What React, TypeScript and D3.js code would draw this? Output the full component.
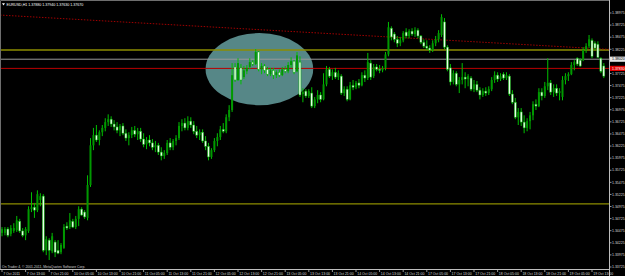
import React from "react";
import * as d3 from "d3";

// OHLC of each H1 bar (open, high, low, close), oldest first: 7 Oct 2011 05:00 .. 19 Oct 17:00
const ohlc: number[][] = [
  [1.3443, 1.3455, 1.3436, 1.3451], [1.3443, 1.3455, 1.3438, 1.3451], [1.3451, 1.3455, 1.3434, 1.3438], [1.3441, 1.3459, 1.3436, 1.3453],
  [1.3447, 1.3463, 1.3443, 1.3453], [1.3449, 1.3478, 1.3445, 1.3469], [1.3467, 1.3472, 1.3443, 1.3447], [1.3447, 1.3453, 1.3434, 1.3438],
  [1.3438, 1.3455, 1.3428, 1.3451], [1.3447, 1.3498, 1.3443, 1.3492], [1.3492, 1.3527, 1.3486, 1.3496], [1.3496, 1.3505, 1.3474, 1.3490],
  [1.3490, 1.3531, 1.3486, 1.3523], [1.3511, 1.3525, 1.3498, 1.3519], [1.3519, 1.3523, 1.3403, 1.3407], [1.3407, 1.3436, 1.3397, 1.3430],
  [1.3428, 1.3432, 1.3387, 1.3407], [1.3405, 1.3443, 1.3401, 1.3436], [1.3424, 1.3428, 1.3393, 1.3403], [1.3407, 1.3428, 1.3399, 1.3401],
  [1.3403, 1.3422, 1.3399, 1.3418], [1.3412, 1.3461, 1.3410, 1.3455], [1.3457, 1.3465, 1.3449, 1.3453], [1.3455, 1.3484, 1.3451, 1.3469],
  [1.3467, 1.3472, 1.3453, 1.3455], [1.3455, 1.3478, 1.3451, 1.3472], [1.3472, 1.3498, 1.3457, 1.3492], [1.3492, 1.3496, 1.3478, 1.3480],
  [1.3486, 1.3490, 1.3472, 1.3476], [1.3474, 1.3562, 1.3469, 1.3542], [1.3542, 1.3639, 1.3538, 1.3624], [1.3624, 1.3660, 1.3614, 1.3645],
  [1.3645, 1.3666, 1.3631, 1.3635], [1.3635, 1.3655, 1.3624, 1.3651], [1.3651, 1.3666, 1.3643, 1.3660], [1.3660, 1.3680, 1.3653, 1.3672],
  [1.3672, 1.3688, 1.3664, 1.3678], [1.3678, 1.3684, 1.3662, 1.3668], [1.3668, 1.3676, 1.3655, 1.3662], [1.3662, 1.3672, 1.3649, 1.3655],
  [1.3655, 1.3668, 1.3643, 1.3664], [1.3664, 1.3670, 1.3645, 1.3649], [1.3649, 1.3657, 1.3633, 1.3639], [1.3639, 1.3651, 1.3624, 1.3645],
  [1.3645, 1.3662, 1.3639, 1.3655], [1.3655, 1.3664, 1.3641, 1.3647], [1.3647, 1.3660, 1.3635, 1.3653], [1.3653, 1.3660, 1.3631, 1.3637],
  [1.3637, 1.3649, 1.3620, 1.3626], [1.3626, 1.3641, 1.3616, 1.3635], [1.3635, 1.3645, 1.3622, 1.3629], [1.3629, 1.3637, 1.3614, 1.3620],
  [1.3620, 1.3633, 1.3610, 1.3624], [1.3624, 1.3629, 1.3604, 1.3610], [1.3610, 1.3620, 1.3593, 1.3602], [1.3602, 1.3614, 1.3596, 1.3608],
  [1.3608, 1.3635, 1.3604, 1.3629], [1.3629, 1.3639, 1.3614, 1.3620], [1.3620, 1.3637, 1.3614, 1.3633], [1.3633, 1.3645, 1.3624, 1.3639],
  [1.3639, 1.3672, 1.3635, 1.3664], [1.3664, 1.3678, 1.3653, 1.3670], [1.3670, 1.3680, 1.3655, 1.3660], [1.3660, 1.3684, 1.3655, 1.3674],
  [1.3674, 1.3682, 1.3660, 1.3666], [1.3666, 1.3674, 1.3647, 1.3653], [1.3653, 1.3664, 1.3639, 1.3645], [1.3645, 1.3657, 1.3635, 1.3651],
  [1.3651, 1.3657, 1.3629, 1.3633], [1.3633, 1.3643, 1.3614, 1.3622], [1.3622, 1.3629, 1.3593, 1.3600], [1.3600, 1.3618, 1.3596, 1.3614],
  [1.3614, 1.3639, 1.3610, 1.3633], [1.3633, 1.3649, 1.3622, 1.3641], [1.3641, 1.3664, 1.3635, 1.3657], [1.3657, 1.3670, 1.3649, 1.3653],
  [1.3653, 1.3688, 1.3649, 1.3682], [1.3682, 1.3707, 1.3674, 1.3697], [1.3697, 1.3794, 1.3693, 1.3769], [1.3786, 1.3794, 1.3755, 1.3759],
  [1.3759, 1.3804, 1.3757, 1.3794], [1.3784, 1.3792, 1.3750, 1.3759], [1.3765, 1.3788, 1.3761, 1.3779], [1.3777, 1.3790, 1.3771, 1.3784],
  [1.3786, 1.3804, 1.3781, 1.3796], [1.3796, 1.3800, 1.3788, 1.3792], [1.3792, 1.3823, 1.3790, 1.3817], [1.3817, 1.3819, 1.3777, 1.3781],
  [1.3781, 1.3794, 1.3771, 1.3788], [1.3788, 1.3792, 1.3773, 1.3779], [1.3781, 1.3786, 1.3767, 1.3771], [1.3771, 1.3784, 1.3767, 1.3779],
  [1.3779, 1.3784, 1.3761, 1.3769], [1.3769, 1.3779, 1.3763, 1.3775], [1.3775, 1.3781, 1.3765, 1.3769], [1.3769, 1.3786, 1.3767, 1.3781],
  [1.3781, 1.3788, 1.3773, 1.3777], [1.3777, 1.3796, 1.3773, 1.3790], [1.3790, 1.3806, 1.3784, 1.3798], [1.3798, 1.3800, 1.3771, 1.3775],
  [1.3777, 1.3817, 1.3775, 1.3810], [1.3796, 1.3808, 1.3724, 1.3728], [1.3730, 1.3742, 1.3713, 1.3734], [1.3736, 1.3740, 1.3722, 1.3726],
  [1.3726, 1.3740, 1.3722, 1.3736], [1.3732, 1.3744, 1.3701, 1.3705], [1.3705, 1.3724, 1.3701, 1.3719], [1.3719, 1.3738, 1.3711, 1.3728],
  [1.3728, 1.3734, 1.3713, 1.3719], [1.3719, 1.3773, 1.3717, 1.3750], [1.3750, 1.3788, 1.3746, 1.3781], [1.3781, 1.3786, 1.3763, 1.3767],
  [1.3767, 1.3781, 1.3759, 1.3775], [1.3775, 1.3784, 1.3761, 1.3765], [1.3765, 1.3779, 1.3759, 1.3773], [1.3767, 1.3771, 1.3728, 1.3732],
  [1.3732, 1.3746, 1.3726, 1.3740], [1.3740, 1.3746, 1.3715, 1.3719], [1.3719, 1.3755, 1.3717, 1.3748], [1.3748, 1.3759, 1.3738, 1.3744],
  [1.3744, 1.3757, 1.3740, 1.3753], [1.3753, 1.3761, 1.3742, 1.3748], [1.3748, 1.3775, 1.3746, 1.3769], [1.3769, 1.3779, 1.3755, 1.3763],
  [1.3763, 1.3815, 1.3759, 1.3796], [1.3794, 1.3800, 1.3759, 1.3765], [1.3767, 1.3792, 1.3763, 1.3786], [1.3786, 1.3792, 1.3777, 1.3781],
  [1.3781, 1.3790, 1.3773, 1.3779], [1.3779, 1.3788, 1.3775, 1.3784], [1.3784, 1.3817, 1.3779, 1.3812], [1.3812, 1.3879, 1.3808, 1.3868],
  [1.3866, 1.3870, 1.3841, 1.3848], [1.3854, 1.3858, 1.3837, 1.3843], [1.3843, 1.3850, 1.3827, 1.3835], [1.3835, 1.3848, 1.3829, 1.3841],
  [1.3841, 1.3860, 1.3837, 1.3856], [1.3858, 1.3866, 1.3845, 1.3850], [1.3850, 1.3864, 1.3845, 1.3860], [1.3860, 1.3866, 1.3850, 1.3854],
  [1.3854, 1.3868, 1.3848, 1.3862], [1.3862, 1.3866, 1.3845, 1.3850], [1.3850, 1.3852, 1.3833, 1.3837], [1.3837, 1.3843, 1.3825, 1.3829],
  [1.3829, 1.3841, 1.3821, 1.3825], [1.3825, 1.3831, 1.3815, 1.3821], [1.3821, 1.3841, 1.3817, 1.3835], [1.3835, 1.3850, 1.3829, 1.3843],
  [1.3843, 1.3862, 1.3837, 1.3856], [1.3852, 1.3895, 1.3848, 1.3889], [1.3879, 1.3887, 1.3823, 1.3827], [1.3827, 1.3831, 1.3777, 1.3781],
  [1.3784, 1.3792, 1.3748, 1.3755], [1.3755, 1.3779, 1.3750, 1.3773], [1.3773, 1.3777, 1.3746, 1.3750], [1.3750, 1.3765, 1.3732, 1.3759],
  [1.3759, 1.3794, 1.3750, 1.3765], [1.3765, 1.3775, 1.3742, 1.3761], [1.3761, 1.3771, 1.3746, 1.3767], [1.3763, 1.3767, 1.3736, 1.3740],
  [1.3740, 1.3759, 1.3734, 1.3750], [1.3750, 1.3757, 1.3734, 1.3738], [1.3738, 1.3744, 1.3719, 1.3728], [1.3728, 1.3742, 1.3724, 1.3736],
  [1.3736, 1.3744, 1.3726, 1.3732], [1.3732, 1.3746, 1.3728, 1.3740], [1.3740, 1.3765, 1.3736, 1.3759], [1.3759, 1.3777, 1.3753, 1.3769],
  [1.3769, 1.3775, 1.3755, 1.3761], [1.3761, 1.3773, 1.3757, 1.3767], [1.3771, 1.3775, 1.3759, 1.3763], [1.3763, 1.3775, 1.3759, 1.3769],
  [1.3767, 1.3771, 1.3726, 1.3730], [1.3730, 1.3738, 1.3709, 1.3713], [1.3713, 1.3722, 1.3678, 1.3682], [1.3682, 1.3701, 1.3666, 1.3693],
  [1.3693, 1.3701, 1.3664, 1.3672], [1.3672, 1.3686, 1.3649, 1.3660], [1.3660, 1.3680, 1.3653, 1.3674], [1.3674, 1.3693, 1.3657, 1.3686],
  [1.3686, 1.3715, 1.3676, 1.3709], [1.3709, 1.3719, 1.3697, 1.3705], [1.3705, 1.3742, 1.3703, 1.3734], [1.3734, 1.3742, 1.3717, 1.3726],
  [1.3726, 1.3755, 1.3722, 1.3746], [1.3746, 1.3804, 1.3738, 1.3753], [1.3753, 1.3759, 1.3728, 1.3734], [1.3734, 1.3750, 1.3724, 1.3742],
  [1.3742, 1.3750, 1.3726, 1.3732], [1.3732, 1.3742, 1.3717, 1.3736], [1.3724, 1.3767, 1.3717, 1.3759], [1.3759, 1.3773, 1.3750, 1.3767],
  [1.3767, 1.3775, 1.3757, 1.3771], [1.3771, 1.3796, 1.3769, 1.3790], [1.3790, 1.3800, 1.3779, 1.3796], [1.3804, 1.3806, 1.3788, 1.3792],
  [1.3800, 1.3804, 1.3786, 1.3788], [1.3800, 1.3827, 1.3798, 1.3821], [1.3821, 1.3835, 1.3815, 1.3829], [1.3829, 1.3852, 1.3825, 1.3843],
  [1.3841, 1.3845, 1.3804, 1.3808], [1.3835, 1.3839, 1.3821, 1.3825], [1.3833, 1.3839, 1.3804, 1.3806], [1.3804, 1.3806, 1.3773, 1.3777],
  [1.3788, 1.3794, 1.3763, 1.3767],
];

// time-axis labels, one every 8 bars
const timeLabels = [
  "7 Oct 2011", "7 Oct 13:00", "7 Oct 21:00", "10 Oct 05:00", "10 Oct 13:00", "10 Oct 21:00",
  "11 Oct 05:00", "11 Oct 13:00", "11 Oct 21:00", "12 Oct 05:00", "12 Oct 13:00", "12 Oct 21:00",
  "13 Oct 05:00", "13 Oct 13:00", "13 Oct 21:00", "14 Oct 05:00", "14 Oct 13:00", "14 Oct 21:00",
  "17 Oct 05:00", "17 Oct 13:00", "17 Oct 21:00", "18 Oct 05:00", "18 Oct 13:00", "18 Oct 21:00",
  "19 Oct 05:00", "19 Oct 13:00",
];

const priceTicks = [
  1.38975, 1.38725, 1.38475, 1.38225, 1.37975, 1.37725, 1.37475, 1.37225, 1.36975, 1.36725, 1.36475,
  1.36225, 1.35975, 1.35725, 1.35475, 1.35225, 1.34975, 1.34725, 1.34475, 1.34225, 1.33975, 1.33725,
];

const symbolName = "EURUSD,H1";
const copyrightText = "On Trader 4, © 2001-2011, MetaQuotes Software Corp.";
const bidPrice = 1.3802;
const redLevel = 1.3783;
const oliveLevels = [1.3821, 1.3503];
const trendBars = [0, 204];
const trendPrices = [1.3893, 1.3823];
const ellipseBars = [69, 105.5];
const ellipsePrices = [1.3856, 1.3707];

const W = 625;
const H = 276;
const PLOT_R = 609;
const PLOT_B = 269;
const FONT = "'Liberation Sans', Arial, sans-serif";

export default function App() {
  const n = ohlc.length;
  const x = d3.scaleLinear().domain([0, n - 1]).range([2, 2 + 2.95 * (n - 1)]);
  const y = d3.scaleLinear().domain([1.33725, 1.38975]).range([267, 13]);

  const wick = "#00c000";
  const bullFill = "#009800";
  const bearFill = "#e8ffe8";

  // trend line extended across plot
  const tx0 = x(trendBars[0]);
  const ty0 = y(trendPrices[0]);
  const tx1 = x(trendBars[1]);
  const ty1 = y(trendPrices[1]);
  const slope = (ty1 - ty0) / (tx1 - tx0);
  const trendPath = `M0,${ty0 - slope * tx0}L${PLOT_R},${ty0 + slope * (PLOT_R - tx0)}`;

  const ecx = (x(ellipseBars[0]) + x(ellipseBars[1])) / 2;
  const ecy = (y(ellipsePrices[0]) + y(ellipsePrices[1])) / 2;
  const erx = Math.abs(x(ellipseBars[1]) - x(ellipseBars[0])) / 2;
  const ery = Math.abs(y(ellipsePrices[1]) - y(ellipsePrices[0])) / 2;

  const last = ohlc[n - 1];
  const title = `${symbolName}  ${last.map((v) => v.toFixed(5)).join(" ")}`;

  // labels hidden behind the price boxes
  const boxYs = [y(bidPrice), y(redLevel)];
  const visibleTicks = priceTicks.filter((p) => boxYs.every((by) => Math.abs(y(p) - by) > 5));

  return (
    <svg
      width={W}
      height={H}
      viewBox={`0 0 ${W} ${H}`}
      style={{ position: "absolute", left: 0, top: 0, display: "block", background: "#000" }}
    >
      <defs>
        <clipPath id="plot">
          <rect x={1} y={1} width={PLOT_R - 1} height={PLOT_B - 1} />
        </clipPath>
      </defs>
      <rect x={0} y={0} width={W} height={H} fill="#000" />
      <g clipPath="url(#plot)">
        <ellipse cx={ecx} cy={ecy} rx={erx} ry={ery} fill="#568787" />
        {oliveLevels.map((p, i) => (
          <line key={i} x1={0} x2={PLOT_R} y1={y(p)} y2={y(p)} stroke="#8c8c00" strokeWidth={1.3} />
        ))}
        <line x1={0} x2={PLOT_R} y1={y(bidPrice)} y2={y(bidPrice)} stroke="#9a9a9a" strokeWidth={1} />
        <line x1={0} x2={PLOT_R} y1={y(redLevel)} y2={y(redLevel)} stroke="#b80000" strokeWidth={1} />
        <path d={trendPath} stroke="#a00000" strokeWidth={1} strokeDasharray="1.5,1.5" fill="none" />
        {ohlc.map((d, i) => {
          const [o, h, l, c] = d;
          const cx = x(i);
          const bull = c >= o;
          const top = y(Math.max(o, c));
          const bh = Math.max(0.8, Math.abs(y(o) - y(c)));
          return (
            <g key={i}>
              <line x1={cx} x2={cx} y1={y(h)} y2={y(l)} stroke={wick} strokeWidth={1} />
              <rect
                x={cx - 1}
                y={top}
                width={2}
                height={bh}
                fill={bull ? bullFill : bearFill}
                stroke={bull ? "none" : "#00b000"}
                strokeWidth={0.5}
              />
            </g>
          );
        })}
      </g>
      {/* frame */}
      <line x1={0.5} x2={PLOT_R} y1={0.5} y2={0.5} stroke="#6e6e6e" strokeWidth={1} />
      <line x1={0.5} x2={0.5} y1={0.5} y2={PLOT_B} stroke="#6e6e6e" strokeWidth={1} />
      <line x1={PLOT_R + 0.5} x2={PLOT_R + 0.5} y1={0} y2={H} stroke="#bdbdbd" strokeWidth={1} />
      <line x1={0} x2={PLOT_R + 0.5} y1={PLOT_B + 0.5} y2={PLOT_B + 0.5} stroke="#bdbdbd" strokeWidth={1} />

      {/* title */}
      <path d="M2,3.2L5,3.2L3.5,5.6Z" fill="#fff" />
      <text x={6.5} y={6} fontSize={3.6} fill="#fff" fontFamily={FONT}>
        {title}
      </text>
      <text x={2} y={267.5} fontSize={3.4} fill="#d0d0d0" fontFamily={FONT}>
        {copyrightText}
      </text>

      {/* price axis */}
      {visibleTicks.map((p, i) => (
        <g key={i}>
          <line x1={PLOT_R} x2={PLOT_R + 2.5} y1={y(p)} y2={y(p)} stroke="#bdbdbd" strokeWidth={0.8} />
          <text x={612} y={y(p)} dy="0.35em" fontSize={3.5} fill="#d8d8d8" fontFamily={FONT}>
            {p.toFixed(5)}
          </text>
        </g>
      ))}
      <rect x={PLOT_R + 1} y={y(bidPrice) - 2.6} width={W - PLOT_R - 1} height={5.2} fill="#e6e6e6" />
      <text x={612} y={y(bidPrice)} dy="0.35em" fontSize={3.5} fill="#000" fontFamily={FONT}>
        {bidPrice.toFixed(5)}
      </text>
      <rect x={PLOT_R + 1} y={y(redLevel) - 2.6} width={W - PLOT_R - 1} height={5.2} fill="#e00000" />
      <text x={612} y={y(redLevel)} dy="0.35em" fontSize={3.5} fill="#fff" fontFamily={FONT}>
        {redLevel.toFixed(5)}
      </text>

      {/* time axis */}
      {timeLabels.map((t, k) => {
        const tx = x(k * 8);
        return (
          <g key={k}>
            <line x1={tx} x2={tx} y1={PLOT_B} y2={PLOT_B + 3} stroke="#bdbdbd" strokeWidth={0.8} />
            <text x={tx + 1.2} y={274.5} fontSize={3.5} fill="#d8d8d8" fontFamily={FONT}>
              {t}
            </text>
          </g>
        );
      })}
    </svg>
  );
}
